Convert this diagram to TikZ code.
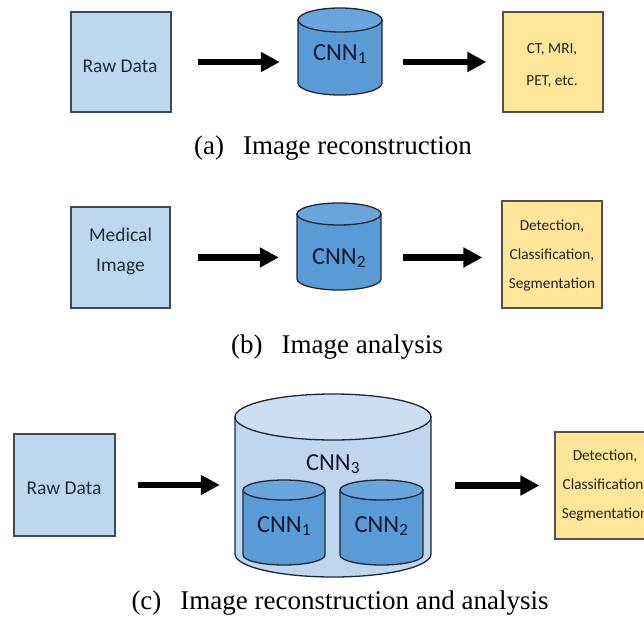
\documentclass[tikz,border=0pt]{standalone}
\usepackage{fontspec}
\setmainfont{Carlito}
\newfontfamily\capfont{Liberation Serif}
\usetikzlibrary{arrows.meta}
\definecolor{inblue}{HTML}{BDD7EE}
\definecolor{inborder}{HTML}{3F4B59}
\definecolor{cylblue}{HTML}{5B9BD5}
\definecolor{cyltop}{HTML}{6AA5DC}
\definecolor{cylborder}{HTML}{1C2836}
\definecolor{bigbody}{HTML}{BFD6EE}
\definecolor{bigtop}{HTML}{CCDFF2}
\definecolor{outyellow}{HTML}{FFE699}
\definecolor{outborder}{HTML}{55524A}
\definecolor{txtgray}{HTML}{1F2A37}
\definecolor{txtnavy}{HTML}{0E1830}
\definecolor{txtbrown}{HTML}{2A2415}
% cylinder: cx, top-ellipse centre y, bottom-ellipse centre y, rx, ry, body fill, top fill
\newcommand{\mycyl}[7]{%
  \draw[cylborder, line width=1.3pt, fill=#6]
    (#1-#4,#2) -- (#1-#4,#3)
    arc[start angle=180, end angle=360, x radius=#4pt, y radius=#5pt]
    -- (#1+#4,#2) -- cycle;
  \draw[cylborder, line width=1.3pt, fill=#7] (#1,#2) ellipse[x radius=#4pt, y radius=#5pt];
}
\begin{document}
\begin{tikzpicture}[x=1pt,y=-1pt,
  inbox/.style={draw=inborder, line width=1.2pt, fill=inblue, inner sep=0pt},
  outbox/.style={draw=outborder, line width=1.2pt, fill=outyellow, inner sep=0pt},
  intxt/.style={text=txtgray, font=\fontsize{19.5}{30}\selectfont, align=center, inner sep=0pt},
  outtxt/.style={text=txtbrown, font=\fontsize{15.3}{29}\selectfont, align=center, inner sep=0pt},
  cyltxt/.style={text=txtnavy, font=\fontsize{24.5}{28}\selectfont, inner sep=0pt},
  hit/.style={draw=none, inner sep=0pt},
  bigarrow/.style={line width=6.8pt, -{Triangle[length=19pt,width=19pt]}},
  captxt/.style={font=\capfont\fontsize{27}{30}\selectfont, inner sep=0pt}
]
\useasboundingbox (0,0) rectangle (644,628);
\fill[white] (0,0) rectangle (644,628);

% ---------------- (a)
\node[inbox, minimum width=100pt, minimum height=100pt] (raw1) at (121,62) {};
\node[intxt] (raw1t) at (120,66) {Raw Data};
\mycyl{340}{20}{83}{42}{12}{cylblue}{cyltop}
\node[hit, minimum width=84pt, minimum height=87pt] (cnn1b) at (340,51.5) {};
\node[cyltxt] (cnn1t) at (340,54) {CNN\textsubscript{1}};
\node[outbox, minimum width=100pt, minimum height=100pt] (out1) at (553,62) {};
\node[outtxt, font=\fontsize{15.3}{32}\selectfont] (out1t) at (552,66) {CT, MRI,\\PET, etc.};
\draw[bigarrow, shorten <=26pt, shorten >=18pt] (raw1.east) -- (raw1.east -| cnn1b.west);
\draw[bigarrow, shorten <=21pt, shorten >=16pt] (out1.west -| cnn1b.east) -- (out1.west);
\node[captxt] (capa) at (333,148) {(a)\hspace{0.45em} Image reconstruction};

% ---------------- (b)
\node[inbox, minimum width=99pt, minimum height=101pt] (med) at (120.5,257.5) {};
\node[intxt] (medt) at (120.5,251) {Medical\\Image};
\mycyl{339}{214}{279}{42}{11}{cylblue}{cyltop}
\node[hit, minimum width=84pt, minimum height=87pt] (cnn2b) at (339,246.5) {};
\node[cyltxt] (cnn2t) at (339,258) {CNN\textsubscript{2}};
\node[outbox, minimum width=100pt, minimum height=107pt] (out2) at (552,254.5) {};
\node[outtxt] (out2t) at (552,256) {Detection,\\Classification,\\Segmentation};
\draw[bigarrow, shorten <=27pt, shorten >=18pt] (med.east) -- (med.east -| cnn2b.west);
\draw[bigarrow, shorten <=22pt, shorten >=19pt] (med.east -| cnn2b.east) -- (med.east -| out2.west);
\node[captxt] (capb) at (337,347) {(b)\hspace{0.45em} Image analysis};

% ---------------- (c)
\node[inbox, minimum width=101pt, minimum height=102pt] (raw3) at (64.5,485) {};
\node[intxt] (raw3t) at (64,488) {Raw Data};
\mycyl{333}{417}{554}{98}{23}{bigbody}{bigtop}
\node[hit, minimum width=196pt, minimum height=183pt] (cnn3b) at (333,485.5) {};
\node[cyltxt] (cnn3t) at (333,464) {CNN\textsubscript{3}};
\mycyl{284}{490}{555}{41}{10}{cylblue}{cyltop}
\node[hit, minimum width=82pt, minimum height=85pt] (in1b) at (284,522.5) {};
\node[cyltxt] (in1t) at (284,526) {CNN\textsubscript{1}};
\mycyl{381.5}{490}{555}{41.5}{10}{cylblue}{cyltop}
\node[hit, minimum width=83pt, minimum height=85pt] (in2b) at (381.5,522.5) {};
\node[cyltxt] (in2t) at (381.5,526) {CNN\textsubscript{2}};
\node[outbox, minimum width=100pt, minimum height=107pt] (out3) at (605,485.5) {};
\node[outtxt] (out3t) at (605,486) {Detection,\\Classification,\\Segmentation};
\draw[bigarrow, shorten <=22pt, shorten >=15pt] (raw3.east) -- (raw3.east -| cnn3b.west);
\draw[bigarrow, shorten <=24pt, shorten >=15pt] (out3.west -| cnn3b.east) -- (out3.west);
\node[captxt] (capc) at (340,603) {(c)\hspace{0.45em} Image reconstruction and analysis};
\end{tikzpicture}
\end{document}
